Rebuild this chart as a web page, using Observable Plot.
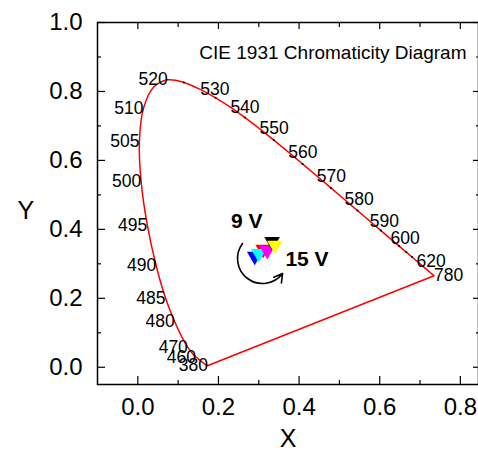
<!DOCTYPE html>
<html><head><meta charset="utf-8">
<script src="https://cdn.jsdelivr.net/npm/d3@7"></script>
<script src="https://cdn.jsdelivr.net/npm/@observablehq/plot@0.6"></script>
<style>body{margin:0;background:#fff}#chart svg{display:block}</style>
</head><body><div id="chart"></div>
<script>
// CIE 1931 2° spectral locus (wavelength nm, x, y)
const wavelengths = [380,385,390,395,400,405,410,415,420,425,430,435,440,445,450,455,460,465,470,475,480,485,490,495,500,505,510,515,520,525,530,535,540,545,550,555,560,565,570,575,580,585,590,595,600,605,610,615,620,625,630,635,640,645,650,655,660,665,670,675,680,690,700,780];
const locusX = [0.1741,0.1740,0.1738,0.1736,0.1733,0.1730,0.1726,0.1721,0.1714,0.1703,0.1689,0.1669,0.1644,0.1611,0.1566,0.1510,0.1440,0.1355,0.1241,0.1096,0.0913,0.0687,0.0454,0.0235,0.0082,0.0039,0.0139,0.0389,0.0743,0.1142,0.1547,0.1929,0.2296,0.2658,0.3016,0.3373,0.3731,0.4087,0.4441,0.4788,0.5125,0.5448,0.5752,0.6029,0.6270,0.6482,0.6658,0.6801,0.6915,0.7006,0.7079,0.7140,0.7190,0.7230,0.7260,0.7283,0.7300,0.7311,0.7320,0.7327,0.7334,0.7344,0.7347,0.7347];
const locusY = [0.0050,0.0050,0.0049,0.0049,0.0048,0.0048,0.0048,0.0048,0.0051,0.0058,0.0069,0.0086,0.0109,0.0138,0.0177,0.0227,0.0297,0.0399,0.0578,0.0868,0.1327,0.2007,0.2950,0.4127,0.5384,0.6548,0.7502,0.8120,0.8338,0.8262,0.8059,0.7816,0.7543,0.7243,0.6923,0.6589,0.6245,0.5896,0.5547,0.5202,0.4866,0.4544,0.4242,0.3965,0.3725,0.3514,0.3340,0.3197,0.3083,0.2993,0.2920,0.2859,0.2809,0.2770,0.2740,0.2717,0.2700,0.2689,0.2680,0.2673,0.2666,0.2656,0.2653,0.2653];

const labelsLeft = [380,460,470,480,485,490,495,500,505,510,520];
const labelsRight = [530,540,550,560,570,580,590,600,620,780];
const smallMarks = [525,535,545,555,565,575,585,595,605,610,615];

// measured chromaticity points (drawing order)
const pointX = [0.311,0.290,0.300,0.321,0.333,0.340];
const pointY = [0.342,0.322,0.330,0.339,0.365,0.354];
const pointColor = ["#ff0000","#0000ff","#00ffff","#ff00ff","#000000","#ffff00"];

const annoText = ["9 V","15 V"];
const annoX = [0.270,0.366];
const annoY = [0.423,0.314];
const annoAnchor = ["middle","start"];
const arrowFrom = [0.2597,0.359];
const arrowTo = [0.359,0.272];

const xMajor = [0,0.2,0.4,0.6,0.8];
const xMinor = [0.1,0.3,0.5,0.7];
const yMajor = [0,0.2,0.4,0.6,0.8,1.0];
const yMinor = [0.1,0.3,0.5,0.7,0.9];

const idx = w => wavelengths.indexOf(w);
const locus = wavelengths.map((w,i)=>({w, x: locusX[i], y: locusY[i]}));
const last = locus.length - 1;
const ptAt = w => locus[idx(w)];
const points = pointX.map((x,i)=>({x, y: pointY[i], c: pointColor[i]}));
const annos = annoText.map((t,i)=>({t, x: annoX[i], y: annoY[i], a: annoAnchor[i]}));
const fmt = d3.format(".1f");

const tickOpts = {fill: "none", label: null, stroke: "black"};

const chart = Plot.plot({
  width: 478, height: 456,
  marginLeft: 97, marginRight: 0, marginTop: 22, marginBottom: 72,
  x: {domain: [-0.1, 0.845], label: null},
  y: {domain: [-0.05, 1.0], label: null},
  color: {type: "identity"},
  style: {fontFamily: "Liberation Sans, Arial, sans-serif", fontSize: "16px", color: "black", background: "white"},
  marks: [
    // tick marks (inward)
    Plot.axisX({...tickOpts, anchor: "bottom", ticks: xMajor, tickSize: -8, strokeWidth: 1.2}),
    Plot.axisX({...tickOpts, anchor: "bottom", ticks: xMinor, tickSize: -4, strokeWidth: 1.2}),
    Plot.axisX({...tickOpts, anchor: "top", ticks: xMajor, tickSize: -6, strokeWidth: 1.2}),
    Plot.axisX({...tickOpts, anchor: "top", ticks: xMinor, tickSize: -4, strokeWidth: 1.2}),
    Plot.axisY({...tickOpts, anchor: "left", ticks: yMajor, tickSize: -8, strokeWidth: 1.2}),
    Plot.axisY({...tickOpts, anchor: "left", ticks: yMinor, tickSize: -4, strokeWidth: 1.2}),
    Plot.axisY({...tickOpts, anchor: "right", ticks: yMajor, tickSize: -6, strokeWidth: 1.2}),
    Plot.axisY({...tickOpts, anchor: "right", ticks: yMinor, tickSize: -3, strokeWidth: 1.2}),
    // tick labels
    Plot.axisX({anchor: "bottom", ticks: xMajor, tickSize: 0, tickPadding: 13, tickFormat: fmt, fontSize: 24, label: null}),
    Plot.axisY({anchor: "left", ticks: yMajor, tickSize: 0, tickPadding: 15, tickFormat: fmt, fontSize: 24, label: null}),
    Plot.frame({stroke: "black", strokeWidth: 1.5}),
    // spectral locus
    Plot.line(locus, {x: "x", y: "y", stroke: "red", strokeWidth: 1.5, curve: "catmull-rom"}),
    Plot.link([0], {x1: () => locus[last].x, y1: () => locus[last].y, x2: () => locus[0].x, y2: () => locus[0].y, stroke: "red", strokeWidth: 1.5}),
    Plot.dot(smallMarks.map(ptAt), {x: "x", y: "y", r: 1, fill: "black", stroke: null}),
    Plot.text(labelsLeft.map(ptAt), {x: "x", y: "y", text: d => String(d.w), textAnchor: "end", fontSize: 17.5, fill: "black"}),
    Plot.text(labelsRight.map(ptAt), {x: "x", y: "y", text: d => String(d.w), textAnchor: "start", fontSize: 17.5, fill: "black"}),
    // title
    Plot.text(["CIE 1931 Chromaticity Diagram"], {frameAnchor: "top-right", dx: -12, dy: 23, textAnchor: "end", fontSize: 19, fill: "black"}),
    // data points
    Plot.dot(points, {x: "x", y: "y", fill: "c", symbol: "triangle", r: 5.8, rotate: 180, stroke: null}),
    // annotations
    Plot.arrow([0], {x1: () => arrowFrom[0], y1: () => arrowFrom[1], x2: () => arrowTo[0], y2: () => arrowTo[1], bend: -90, stroke: "black", strokeWidth: 1.6, headLength: 9}),
    Plot.text(annos.filter(d=>d.a==="middle"), {x: "x", y: "y", text: "t", textAnchor: "middle", fontSize: 21, fontWeight: "bold", fill: "black"}),
    Plot.text(annos.filter(d=>d.a==="start"), {x: "x", y: "y", text: "t", textAnchor: "start", fontSize: 21, fontWeight: "bold", fill: "black"}),
    // axis titles
    Plot.text(["X"], {frameAnchor: "bottom", dy: 62, fontSize: 25, fill: "black"}),
    Plot.text(["Y"], {frameAnchor: "left", dx: -80, dy: 7, fontSize: 25, fill: "black"})
  ]
});
document.getElementById("chart").appendChild(chart);
</script>
</body></html>
